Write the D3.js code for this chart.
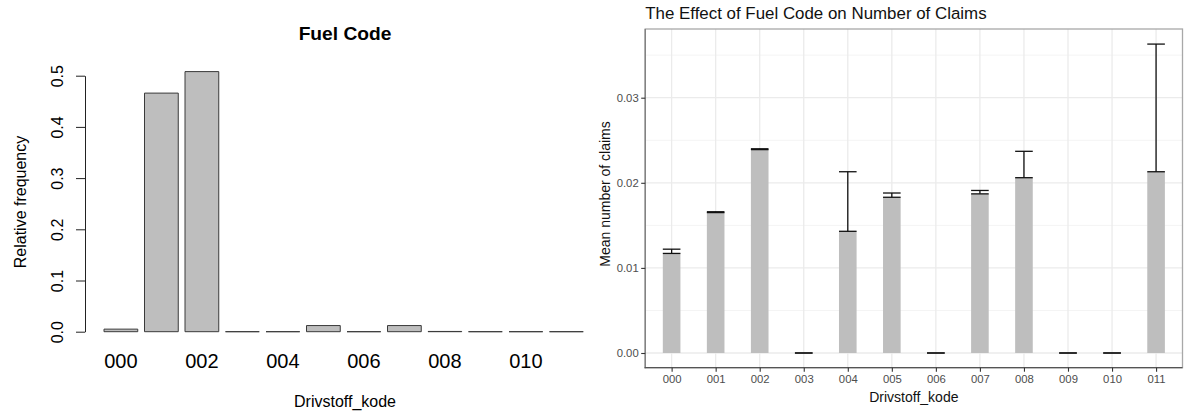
<!DOCTYPE html>
<html>
<head>
<meta charset="utf-8">
<script src="https://cdn.jsdelivr.net/npm/d3@7"></script>
<style>
  html, body { margin: 0; padding: 0; background: #fff; }
  svg { display: block; }
  text { font-family: "Liberation Sans", Arial, Helvetica, sans-serif; }
</style>
</head>
<body>
<svg id="chart" width="1192" height="414"></svg>
<script>
// ---------- data ----------
const categories = ["000","001","002","003","004","005","006","007","008","009","010","011"];
// left panel: relative frequency of each fuel code
const relFreq = [0.005, 0.466, 0.508, 0, 0, 0.012, 0, 0.012, 0.0005, 0, 0, 0];
const leftTickValues = [0, 0.1, 0.2, 0.3, 0.4, 0.5];
const leftTickLabels = ["0.0", "0.1", "0.2", "0.3", "0.4", "0.5"];
const leftNameLabels = ["000", "", "002", "", "004", "", "006", "", "008", "", "010", ""];
// right panel: mean number of claims and the upper error amount
const meanClaims = [0.0117, 0.0165, 0.0239, 0, 0.0143, 0.0183, 0, 0.0187, 0.0206, 0, 0, 0.0213];
const errClaims  = [0.0005, 0.0001, 0.0001, 0, 0.0070, 0.0005, 0, 0.0004, 0.0031, 0, 0, 0.0150];
const rightMajorTicks = [0, 0.01, 0.02, 0.03];
const rightTickLabels = ["0.00", "0.01", "0.02", "0.03"];
const rightMinorTicks = [0.005, 0.015, 0.025, 0.035];

const svg = d3.select("#chart");

// ---------- left panel (base R style) ----------
const L = svg.append("g");
const xL = d3.scaleBand().domain(categories).range([97.25, 590]).paddingInner(1/6).paddingOuter(1/6);
const yL = d3.scaleLinear().domain([0, 0.5]).range([331.7, 75.7]);

L.selectAll("path.bar").data(categories).enter().append("path")
  .attr("d", (d, i) => {
    const x0 = xL(d), x1 = xL(d) + xL.bandwidth();
    const y0 = yL(0), y1 = yL(relFreq[i]);
    return `M${x0},${y0}L${x0},${y1}L${x1},${y1}L${x1},${y0}Z`;
  })
  .attr("fill", "#bebebe")
  .attr("stroke", "#3a3a3a")
  .attr("stroke-width", 1);

const yAxisL = d3.axisLeft(yL).tickValues(leftTickValues)
  .tickFormat((d, i) => leftTickLabels[i]).tickSize(9).tickSizeOuter(0);
const gyL = L.append("g").attr("transform", "translate(85,0)").call(yAxisL);
gyL.select(".domain").attr("stroke", "#222");
gyL.selectAll(".tick line").attr("stroke", "#222");
gyL.selectAll(".tick text")
  .attr("x", 0).attr("y", 0).attr("dy", 0)
  .attr("transform", "translate(-22,0) rotate(-90)")
  .attr("text-anchor", "middle")
  .attr("font-size", 16).attr("fill", "#000")
  .attr("font-family", "Liberation Sans, Arial, sans-serif");

const xAxisL = d3.axisBottom(xL).tickFormat((d, i) => leftNameLabels[i]).tickSize(0);
const gxL = L.append("g").attr("transform", "translate(0,349)").call(xAxisL);
gxL.select(".domain").remove();
gxL.selectAll(".tick text").attr("font-size", 20).attr("fill", "#000").attr("dy", "0.8em")
  .attr("font-family", "Liberation Sans, Arial, sans-serif");

L.append("text").attr("x", 345).attr("y", 39.5).attr("text-anchor", "middle")
  .attr("font-size", 19.2).attr("font-weight", "bold").text("Fuel Code");
L.append("text").attr("x", 345).attr("y", 407).attr("text-anchor", "middle")
  .attr("font-size", 16).text("Drivstoff_kode");
L.append("text").attr("transform", "translate(25.5,202) rotate(-90)").attr("text-anchor", "middle")
  .attr("font-size", 16).text("Relative frequency");

// ---------- right panel (ggplot style) ----------
const R = svg.append("g");
const pLeft = 645.2, pRight = 1182.5, pTop = 29, pBottom = 367.7;
const xR = d3.scalePoint().domain(categories).range([pLeft, pRight]).padding(0.6);
const stepR = xR.step();
const yR = d3.scaleLinear().domain([0, 0.03]).range([353, 97.7]);
const barW = stepR * 0.4;

// minor grid
R.selectAll("line.minor").data(rightMinorTicks).enter().append("line")
  .attr("x1", pLeft).attr("x2", pRight)
  .attr("y1", d => yR(d)).attr("y2", d => yR(d))
  .attr("stroke", "#f4f4f4").attr("stroke-width", 1);
// major grid
R.selectAll("line.majorY").data(rightMajorTicks).enter().append("line")
  .attr("x1", pLeft).attr("x2", pRight)
  .attr("y1", d => yR(d)).attr("y2", d => yR(d))
  .attr("stroke", "#ebebeb").attr("stroke-width", 1.3);
R.selectAll("line.majorX").data(categories).enter().append("line")
  .attr("x1", d => xR(d)).attr("x2", d => xR(d))
  .attr("y1", pTop).attr("y2", pBottom)
  .attr("stroke", "#ebebeb").attr("stroke-width", 1.3);

// bars
R.selectAll("rect.bar").data(categories).enter().append("rect")
  .attr("x", d => xR(d) - barW / 2)
  .attr("y", (d, i) => yR(meanClaims[i]))
  .attr("width", barW)
  .attr("height", (d, i) => yR(0) - yR(meanClaims[i]))
  .attr("fill", "#bebebe");

// error bars (mean to mean + error)
const eb = R.selectAll("g.err").data(categories).enter().append("g")
  .attr("stroke", "#111").attr("stroke-width", 1.3);
eb.append("line")
  .attr("x1", d => xR(d)).attr("x2", d => xR(d))
  .attr("y1", (d, i) => yR(meanClaims[i])).attr("y2", (d, i) => yR(meanClaims[i] + errClaims[i]));
eb.append("line")
  .attr("x1", d => xR(d) - barW / 2).attr("x2", d => xR(d) + barW / 2)
  .attr("y1", (d, i) => yR(meanClaims[i])).attr("y2", (d, i) => yR(meanClaims[i]));
eb.append("line")
  .attr("x1", d => xR(d) - barW / 2).attr("x2", d => xR(d) + barW / 2)
  .attr("y1", (d, i) => yR(meanClaims[i] + errClaims[i])).attr("y2", (d, i) => yR(meanClaims[i] + errClaims[i]));

// panel border
R.append("rect").attr("x", pLeft).attr("y", pTop).attr("width", pRight - pLeft).attr("height", pBottom - pTop)
  .attr("fill", "none").attr("stroke", "#a8a8a8").attr("stroke-width", 1.3);
R.append("line").attr("x1", pLeft).attr("x2", pLeft).attr("y1", pTop).attr("y2", pBottom + 0.6)
  .attr("stroke", "#777").attr("stroke-width", 1.2);
R.append("line").attr("x1", pLeft - 0.6).attr("x2", pRight).attr("y1", pBottom).attr("y2", pBottom)
  .attr("stroke", "#555").attr("stroke-width", 1.2);

// axes
const yAxisR = d3.axisLeft(yR).tickValues(rightMajorTicks).tickFormat((d, i) => rightTickLabels[i])
  .tickSize(4).tickPadding(2.5);
const gyR = R.append("g").attr("transform", `translate(${pLeft},0)`).call(yAxisR);
gyR.select(".domain").remove();
gyR.selectAll(".tick line").attr("stroke", "#333").attr("stroke-width", 1.1);
gyR.selectAll(".tick text").attr("font-size", 11.3).attr("fill", "#4d4d4d")
  .attr("font-family", "Liberation Sans, Arial, sans-serif");

const xAxisR = d3.axisBottom(xR).tickSize(4).tickPadding(3);
const gxR = R.append("g").attr("transform", `translate(0,${pBottom})`).call(xAxisR);
gxR.select(".domain").remove();
gxR.selectAll(".tick line").attr("stroke", "#333").attr("stroke-width", 1.1);
gxR.selectAll(".tick text").attr("font-size", 11.3).attr("fill", "#4d4d4d")
  .attr("font-family", "Liberation Sans, Arial, sans-serif");

R.append("text").attr("x", pLeft).attr("y", 19).attr("font-size", 16.9).attr("fill", "#111")
  .text("The Effect of Fuel Code on Number of Claims");
R.append("text").attr("x", (pLeft + pRight) / 2).attr("y", 401.5).attr("text-anchor", "middle")
  .attr("font-size", 14).attr("fill", "#111").text("Drivstoff_kode");
R.append("text").attr("transform", "translate(610,194) rotate(-90)").attr("text-anchor", "middle")
  .attr("font-size", 14).attr("fill", "#111").text("Mean number of claims");
</script>
</body>
</html>
